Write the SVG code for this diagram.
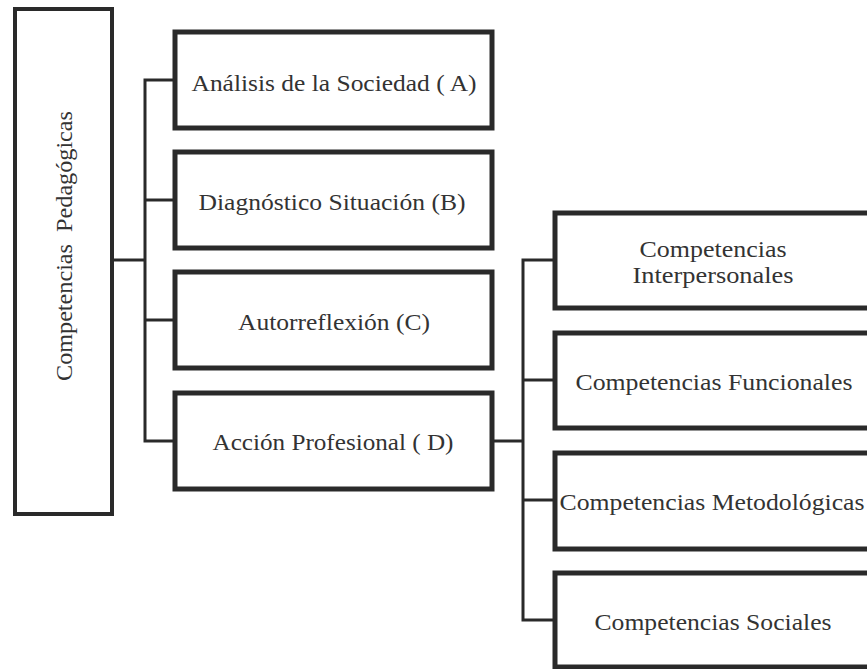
<svg xmlns="http://www.w3.org/2000/svg" width="867" height="669" viewBox="0 0 867 669">
  <style>
    .box { fill: #ffffff; stroke: #2a2a2a; stroke-width: 5; }
    .wire { fill: none; stroke: #2a2a2a; stroke-width: 3; }
    .label { font-family: "Liberation Serif", "DejaVu Serif", serif; font-size: 24px; fill: #333333; text-anchor: middle; }
  </style>
  <rect width="867" height="669" fill="#ffffff"/>

  <!-- connectors -->
  <g id="connectors">
    <path class="wire" d="M113,260 H145"/>
    <path class="wire" d="M175,80 H145 V441 H175"/>
    <path class="wire" d="M145,200 H175"/>
    <path class="wire" d="M145,320 H175"/>
    <path class="wire" d="M492,441 H523"/>
    <path class="wire" d="M555,260 H523 V620 H555"/>
    <path class="wire" d="M523,380 H555"/>
    <path class="wire" d="M523,500 H555"/>
  </g>

  <!-- root -->
  <g id="root">
    <rect class="box" x="15" y="9" width="97" height="505" style="stroke-width:4"/>
    <text class="label" x="72" y="246" transform="rotate(-90 72 246)" xml:space="preserve" textLength="270" lengthAdjust="spacingAndGlyphs">Competencias  Pedagógicas</text>
  </g>

  <!-- first level -->
  <g id="node-a">
    <rect class="box" x="175" y="32" width="317" height="96"/>
    <text class="label" x="334" y="91" textLength="285" lengthAdjust="spacingAndGlyphs">Análisis de la Sociedad ( A)</text>
  </g>
  <g id="node-b">
    <rect class="box" x="175" y="152" width="317" height="96"/>
    <text class="label" x="332" y="210" textLength="267" lengthAdjust="spacingAndGlyphs">Diagnóstico Situación (B)</text>
  </g>
  <g id="node-c">
    <rect class="box" x="175" y="272" width="317" height="96"/>
    <text class="label" x="334" y="330" textLength="192" lengthAdjust="spacingAndGlyphs">Autorreflexión (C)</text>
  </g>
  <g id="node-d">
    <rect class="box" x="175" y="393" width="317" height="96"/>
    <text class="label" x="333" y="450" textLength="241" lengthAdjust="spacingAndGlyphs">Acción Profesional ( D)</text>
  </g>

  <!-- second level, under D -->
  <g id="node-d1">
    <rect class="box" x="555" y="213" width="320" height="95"/>
    <text class="label" x="713" y="257" textLength="147" lengthAdjust="spacingAndGlyphs">Competencias</text>
    <text class="label" x="713" y="283" textLength="161" lengthAdjust="spacingAndGlyphs">Interpersonales</text>
  </g>
  <g id="node-d2">
    <rect class="box" x="555" y="333" width="320" height="95"/>
    <text class="label" x="714" y="390" textLength="277" lengthAdjust="spacingAndGlyphs">Competencias Funcionales</text>
  </g>
  <g id="node-d3">
    <rect class="box" x="555" y="453" width="320" height="96"/>
    <text class="label" x="712" y="510" textLength="305" lengthAdjust="spacingAndGlyphs">Competencias Metodológicas</text>
  </g>
  <g id="node-d4">
    <rect class="box" x="555" y="573" width="320" height="94"/>
    <text class="label" x="713" y="630" textLength="237" lengthAdjust="spacingAndGlyphs">Competencias Sociales</text>
  </g>
</svg>
